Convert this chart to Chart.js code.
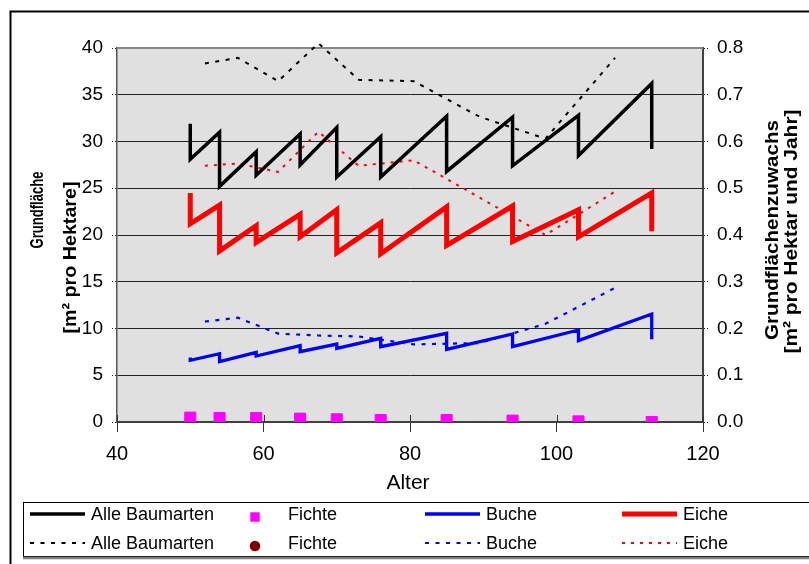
<!DOCTYPE html>
<html>
<head>
<meta charset="utf-8">
<script src="https://cdn.jsdelivr.net/npm/chart.js@4.4.0/dist/chart.umd.min.js"></script>
<style>
  html, body { margin: 0; padding: 0; background: #fff; }
  canvas { display: block; }
</style>
</head>
<body>
<canvas id="grundChart" width="809" height="564"></canvas>
<script>
// Durchforstungsalter (Sägezahn: vor / nach Eingriff)
const alter = [50, 54, 59, 65, 70, 76, 85, 94, 103, 113];
const alleVor   = [31.9, 31.0, 28.9, 30.8, 31.5, 30.5, 32.7, 32.6, 32.8, 36.2];
const alleNach  = [28.1, 25.2, 26.4, 27.5, 26.2, 26.2, 26.8, 27.4, 28.5, 29.2];
const eicheVor  = [24.5, 23.2, 21.0, 22.2, 22.7, 21.3, 23.0, 23.1, 22.7, 24.5];
const eicheNach = [21.2, 18.3, 19.2, 19.8, 18.1, 18.0, 18.9, 19.3, 19.8, 20.4];
const bucheVor  = [6.9, 7.3, 7.45, 8.16, 8.34, 8.95, 9.49, 9.41, 9.84, 11.55];
const bucheNach = [6.6, 6.45, 7.06, 7.52, 7.88, 8.06, 7.77, 8.06, 8.70, 8.84];
const fichte    = [0.47, 0.43, 0.43, 0.36, 0.29, 0.21, 0.21, 0.15, 0.07, 0.0];

// Zuwachs zwischen den Eingriffen (rechte Achse)
const alterMitte = [52, 56.5, 62, 67.5, 73, 80.5, 89.5, 98.5, 108];
const zuwAlle    = [0.767, 0.779, 0.729, 0.81, 0.732, 0.729, 0.653, 0.606, 0.779];
const zuwFichte  = [];
const zuwBuche   = [0.215, 0.223, 0.189, 0.185, 0.183, 0.166, 0.169, 0.21, 0.287];
const zuwEiche   = [0.548, 0.553, 0.535, 0.621, 0.548, 0.56, 0.48, 0.40, 0.493];

// Achsen
const xTicks = [40, 60, 80, 100, 120];
const yTicks = [0, 5, 10, 15, 20, 25, 30, 35, 40];
const y1Ticks = [0.0, 0.1, 0.2, 0.3, 0.4, 0.5, 0.6, 0.7, 0.8];

const FONT = '"Liberation Sans", Arial, sans-serif';

function saegezahn(vor, nach) {
    const pts = [];
    alter.forEach((a, i) => {
        pts.push({ x: a, y: vor[i] });
        pts.push({ x: a, y: nach[i] });
    });
    return pts;
}
function punkte(xs, werte) {
    return werte.map((w, i) => ({ x: xs[i], y: w }));
}

function senkrecht(ctx, text, x, y, laenge, font) {
    ctx.save();
    ctx.font = font;
    const w = ctx.measureText(text).width;
    ctx.translate(x, y);
    ctx.rotate(-Math.PI / 2);
    ctx.scale(laenge / w, 1);
    ctx.textAlign = 'center';
    ctx.textBaseline = 'alphabetic';
    ctx.fillStyle = '#000';
    ctx.fillText(text, 0, 0);
    ctx.restore();
}

const rahmenPlugin = {
    id: 'rahmen',
    beforeDraw(chart) {
        const { ctx, chartArea: a } = chart;
        ctx.save();
        ctx.fillStyle = '#fff';
        ctx.fillRect(0, 0, chart.width, chart.height);
        ctx.fillStyle = '#e0e0e0';
        ctx.fillRect(a.left, a.top, a.right - a.left, a.bottom - a.top);
        ctx.restore();
    },
    beforeDatasetsDraw(chart) {
        const { ctx, chartArea: a } = chart;
        ctx.save();
        ctx.strokeStyle = '#888';
        ctx.lineWidth = 2;
        ctx.beginPath();
        ctx.moveTo(a.left, a.top);
        ctx.lineTo(a.right, a.top);
        ctx.stroke();
        // x-Teilstriche auch nach innen
        const xs = chart.scales.x;
        ctx.strokeStyle = '#333';
        ctx.lineWidth = 1;
        xs.ticks.forEach(t => {
            const px = Math.round(xs.getPixelForValue(t.value)) + 0.5;
            ctx.beginPath();
            ctx.moveTo(px, a.bottom - 7);
            ctx.lineTo(px, a.bottom);
            ctx.stroke();
        });
        ctx.restore();
    },
    afterDraw(chart) {
        const ctx = chart.ctx;

        // Achsentitel
        senkrecht(ctx, 'Grundfläche', 43, 210, 77, 'bold 18px ' + FONT);
        senkrecht(ctx, '[m² pro Hektare]', 76, 257.5, 152, 'bold 19px ' + FONT);
        senkrecht(ctx, 'Grundflächenzuwachs', 778, 230, 220, 'bold 19px ' + FONT);
        senkrecht(ctx, '[m² pro Hektar und Jahr]', 797, 231.5, 244, 'bold 19px ' + FONT);

        ctx.save();
        ctx.fillStyle = '#000';
        ctx.font = '21px ' + FONT;
        ctx.textAlign = 'center';
        ctx.textBaseline = 'alphabetic';
        ctx.fillText('Alter', 408, 489);
        ctx.restore();

        // Legende
        ctx.save();
        ctx.strokeStyle = '#000';
        ctx.lineWidth = 1;
        ctx.strokeRect(23.5, 502.5, 800, 54);
        ctx.strokeStyle = '#808080';
        ctx.lineWidth = 2.5;
        ctx.beginPath();
        ctx.moveTo(23, 558);
        ctx.lineTo(809, 558);
        ctx.stroke();

        const spalten = [30, 230, 425, 622];
        const textX = [91, 288, 486, 683];
        const zeilen = [514, 543];
        ctx.font = '18px ' + FONT;
        ctx.textBaseline = 'middle';
        ctx.textAlign = 'left';
        chart.data.datasets.forEach((ds, i) => {
            const c = i % 4, r = Math.floor(i / 4);
            const y = zeilen[r];
            if (ds.showLine === false) {
                const cx = 255, cy = y + 3;
                ctx.fillStyle = ds.pointBackgroundColor;
                if (ds.pointStyle === 'rect') {
                    ctx.fillRect(cx - 4.7, cy - 4.7, 9.4, 9.4);
                } else {
                    ctx.beginPath();
                    ctx.arc(cx, cy, 5.3, 0, Math.PI * 2);
                    ctx.fill();
                }
            } else {
                ctx.strokeStyle = ds.borderColor;
                ctx.lineWidth = ds.borderWidth;
                ctx.setLineDash(ds.borderDash || []);
                ctx.beginPath();
                ctx.moveTo(spalten[c], y);
                ctx.lineTo(spalten[c] + 55, y);
                ctx.stroke();
                ctx.setLineDash([]);
            }
            ctx.fillStyle = '#000';
            ctx.fillText(ds.label, textX[c], y + 1);
        });

        // äusserer Rahmen
        ctx.strokeStyle = '#000';
        ctx.lineWidth = 2;
        ctx.strokeRect(10.5, 11.5, 900, 700);
        ctx.restore();
    }
};

const gitter = {
    color: ctx => (ctx.tick && (ctx.tick.value === 0 || ctx.tick.value === 40)) ? 'rgba(0,0,0,0)' : '#222',
    lineWidth: 1,
    borderDash: [1, 2],
    tickColor: '#222',
    tickBorderDash: [1, 2],
    tickLength: 5
};

new Chart(document.getElementById('grundChart').getContext('2d'), {
    type: 'line',
    data: {
        datasets: [
            { label: 'Alle Baumarten', data: saegezahn(alleVor, alleNach), borderColor: '#000', borderWidth: 3.5, pointRadius: 0, yAxisID: 'y' },
            { label: 'Fichte', data: punkte(alter, fichte), showLine: false, pointStyle: 'rect', pointRadius: 7.8,
              pointBackgroundColor: '#ff00ff', pointBorderColor: '#ff00ff', pointBorderWidth: 1, borderColor: '#ff00ff', yAxisID: 'y' },
            { label: 'Buche', data: saegezahn(bucheVor, bucheNach), borderColor: '#0000ff', borderWidth: 3.3, pointRadius: 0, yAxisID: 'y' },
            { label: 'Eiche', data: saegezahn(eicheVor, eicheNach), borderColor: '#ff0000', borderWidth: 5, pointRadius: 0, yAxisID: 'y' },
            { label: 'Alle Baumarten', data: punkte(alterMitte, zuwAlle), borderColor: '#000', borderWidth: 2, borderDash: [4, 6.5], pointRadius: 0, yAxisID: 'y1', clip: false },
            { label: 'Fichte', data: punkte(alterMitte, zuwFichte), showLine: false, pointStyle: 'circle', pointRadius: 5,
              pointBackgroundColor: '#800000', pointBorderColor: '#800000', borderColor: '#800000', yAxisID: 'y1' },
            { label: 'Buche', data: punkte(alterMitte, zuwBuche), borderColor: '#0000ff', borderWidth: 2.2, borderDash: [4, 6.5], pointRadius: 0, yAxisID: 'y1', clip: false },
            { label: 'Eiche', data: punkte(alterMitte, zuwEiche), borderColor: '#ff0000', borderWidth: 2, borderDash: [3, 6], pointRadius: 0, yAxisID: 'y1', clip: false }
        ]
    },
    options: {
        responsive: false,
        animation: false,
        devicePixelRatio: 1,
        layout: { padding: { top: 48, left: 0, right: 0, bottom: 0 } },
        plugins: { legend: { display: false }, tooltip: { enabled: false } },
        elements: { line: { tension: 0 } },
        scales: {
            x: {
                type: 'linear',
                min: xTicks[0], max: xTicks[xTicks.length - 1],
                afterBuildTicks: s => { s.ticks = xTicks.map(v => ({ value: v })); },
                afterFit: s => { s.height = 142; },
                ticks: { color: '#000', font: { family: FONT, size: 20 }, padding: 10, maxRotation: 0 },
                grid: { drawOnChartArea: false, color: '#333', tickLength: 10 },
                border: { color: '#404040', width: 2 }
            },
            y: {
                position: 'left',
                min: yTicks[0], max: yTicks[yTicks.length - 1],
                afterBuildTicks: s => { s.ticks = yTicks.map(v => ({ value: v })); },
                afterFit: s => { s.width = 117; },
                ticks: { color: '#000', font: { family: FONT, size: 19 }, padding: 9 },
                grid: gitter,
                border: { color: '#555', width: 1.5 }
            },
            y1: {
                position: 'right',
                min: y1Ticks[0], max: y1Ticks[y1Ticks.length - 1],
                afterBuildTicks: s => { s.ticks = y1Ticks.map(v => ({ value: v })); },
                afterFit: s => { s.width = 106; },
                ticks: { color: '#000', font: { family: FONT, size: 19 }, padding: 9, callback: v => v.toFixed(1) },
                grid: { drawOnChartArea: false, color: '#222', tickBorderDash: [1, 2], tickLength: 5 },
                border: { color: '#404040', width: 2 }
            }
        }
    },
    plugins: [rahmenPlugin]
});
</script>
</body>
</html>
